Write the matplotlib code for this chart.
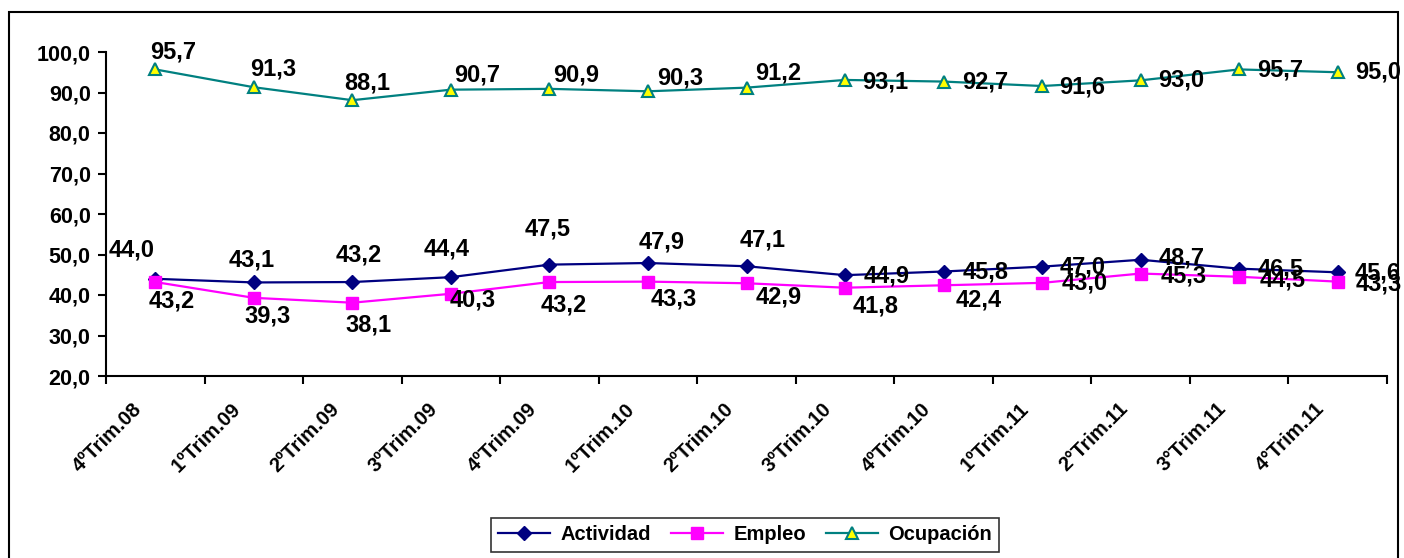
import matplotlib
matplotlib.use("Agg")
import matplotlib.pyplot as plt
import numpy as np
from matplotlib.patches import Rectangle
from matplotlib.transforms import ScaledTranslation

categories = ["4ºTrim.08", "1ºTrim.09", "2ºTrim.09", "3ºTrim.09", "4ºTrim.09",
              "1ºTrim.10", "2ºTrim.10", "3ºTrim.10", "4ºTrim.10", "1ºTrim.11",
              "2°Trim.11", "3°Trim.11", "4°Trim.11"]
actividad = [44.0, 43.1, 43.2, 44.4, 47.5, 47.9, 47.1, 44.9, 45.8, 47.0, 48.7, 46.5, 45.6]
empleo = [43.2, 39.3, 38.1, 40.3, 43.2, 43.3, 42.9, 41.8, 42.4, 43.0, 45.3, 44.5, 43.3]
ocupacion = [95.7, 91.3, 88.1, 90.7, 90.9, 90.3, 91.2, 93.1, 92.7, 91.6, 93.0, 95.7, 95.0]
yticks = [20, 30, 40, 50, 60, 70, 80, 90, 100]

# label offsets in pixels (dx right, dy up)
off_act = [(-24, 29), (-2, 22), (6, 27), (-4, 28), (-2, 36), (14, 21), (16, 26),
           (42, -1), (42, 0), (41, 0), (41, 2), (41, 0), (40, -1)]
off_emp = [(16, -19), (14, -18), (16, -22), (22, -6), (14, -23), (26, -17), (32, -14),
           (31, -18), (35, -15), (43, 0), (43, -2), (43, -3), (41, -2)]
off_ocu = [(18, 17), (19, 18), (15, 17), (26, 15), (27, 14), (32, 13), (32, 15),
           (40, -2), (42, 0), (40, -1), (41, 0), (41, -1), (40, 0)]

FONT = "Liberation Sans"
W, H = 1404, 558
fig = plt.figure(figsize=(W / 100, H / 100), dpi=100)
ax = fig.add_axes([106 / W, (H - 376) / H, (1387 - 106) / W, (376 - 52) / H])

x = np.arange(len(categories)) + 0.5
ax.plot(x, actividad, color="#000080", lw=1.6, marker="D", ms=7.5,
        mfc="#000080", mec="#000080", label="Actividad", zorder=3)
ax.plot(x, empleo, color="#FF00FF", lw=1.6, marker="s", ms=8,
        mfc="#FF00FF", mec="#FF00FF", label="Empleo", zorder=3)
ax.plot(x, ocupacion, color="#008080", lw=1.6, marker="^", ms=9,
        mfc="#FFFF00", mec="#008080", mew=1.5, label="Ocupación", zorder=3)

def fmt(v):
    return f"{v:.1f}".replace(".", ",")

for vals, offs in ((actividad, off_act), (empleo, off_emp), (ocupacion, off_ocu)):
    for xi, v, (dx, dy) in zip(x, vals, offs):
        ax.annotate(fmt(v), (xi, v), xytext=(dx * 0.72, dy * 0.72),
                    textcoords="offset points", ha="center", va="center",
                    fontsize=17, fontweight="bold", family=FONT, color="black",
                    annotation_clip=False, zorder=4)

ax.set_xlim(0, len(categories))
ax.set_ylim(20, 100)
ax.set_yticks(yticks)
ax.set_yticklabels([fmt(v) for v in yticks], fontsize=15.5, fontweight="bold", family=FONT)
ax.set_xticks(np.arange(len(categories) + 1))
ax.set_xticklabels([])
ax.tick_params(axis="both", direction="out", length=6, width=1.5, color="black")
ax.tick_params(axis="y", pad=5)
for s in ("top", "right"):
    ax.spines[s].set_visible(False)
for s in ("left", "bottom"):
    ax.spines[s].set_linewidth(1.5)
    ax.spines[s].set_color("black")

# rotated category labels
trans = ax.get_xaxis_transform() + ScaledTranslation(-16 / 100, -30 / 100, fig.dpi_scale_trans)
for xi, lab in zip(x, categories):
    ax.text(xi, 0, lab, transform=trans, rotation=45, rotation_mode="anchor",
            ha="right", va="center", fontsize=14.5, fontweight="bold", family=FONT)

# outer border
fig.patches.append(Rectangle((9 / W, -0.1), (1398 - 9) / W, (H - 12) / H + 0.1,
                             transform=fig.transFigure, fill=False, lw=1.5,
                             edgecolor="black"))

leg = fig.legend(loc="center", bbox_to_anchor=(745 / W, 1 - 535 / H), ncol=3,
                 frameon=True, fancybox=False, edgecolor="black",
                 prop={"family": FONT, "weight": "bold", "size": 14.5},
                 handlelength=2.6, columnspacing=1.0, handletextpad=0.5,
                 borderpad=0.35)
leg.get_frame().set_linewidth(1.2)

fig.savefig("out.png", dpi=100)
